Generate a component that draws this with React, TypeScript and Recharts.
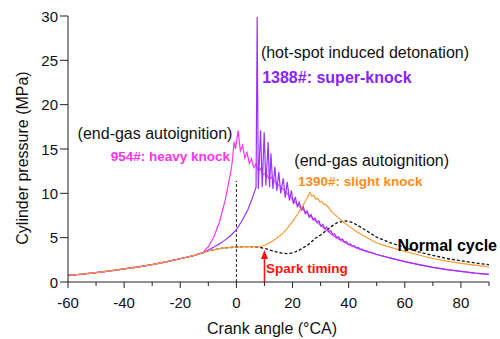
import React from "react";
import {
  LineChart,
  Line,
  XAxis,
  YAxis,
  ReferenceLine,
  ReferenceDot,
  Label,
} from "recharts";

// shared compression stroke (all cycles identical before ignition)
const compressionAngles = [-60, -55, -50, -45, -40, -35, -30, -25, -20, -15];
const compressionP = [0.73, 0.88, 1.05, 1.25, 1.47, 1.7, 1.95, 2.27, 2.62, 3.0];

// normal cycle (black dashed)
const normalAngles = [-10, -5, 0, 4, 8, 10, 12, 14, 16, 18, 20, 22, 24, 26, 28, 30, 32, 34, 36, 38.5, 41, 44, 47, 50, 55, 60, 65, 70, 75, 80, 85, 90];
const normalP = [3.5, 3.82, 3.95, 4.0, 3.92, 3.8, 3.6, 3.42, 3.27, 3.2, 3.28, 3.52, 3.9, 4.3, 4.9, 5.3, 5.8, 6.3, 6.7, 6.9, 6.75, 6.25, 5.65, 5.05, 4.4, 3.9, 3.4, 3.0, 2.65, 2.4, 2.15, 1.95];

// 1390#: slight knock
const slightAngles = [-10, -5, 0, 4, 8, 10, 12, 14, 16, 18, 20, 22, 24, 25.2, 26.2, 26.9, 27.6, 28.3, 29, 29.7, 30.4, 31.1, 31.8, 33, 34, 36, 38, 40, 43, 46, 50, 55, 60, 65, 70, 75, 80, 85, 90];
const slightP = [3.5, 3.82, 3.95, 4.0, 3.95, 4.15, 4.45, 4.85, 5.35, 6.0, 6.8, 7.75, 8.8, 9.45, 10.1, 9.65, 9.8, 9.35, 9.45, 9.05, 9.1, 8.75, 8.75, 8.35, 7.9, 7.35, 6.8, 6.3, 5.65, 5.1, 4.4, 3.9, 3.45, 3.05, 2.65, 2.35, 2.1, 1.9, 1.7];

// 954#: heavy knock
const heavyAngles = [-12, -10, -8, -6, -4, -2, -1.5, -0.8, -0.3, 0.6, 1.4, 2.2, 3.0, 3.8, 4.6, 5.4, 6.2, 7.0, 7.8, 8.6, 9.5, 10.5, 11.5, 12.5, 14, 16, 18, 20, 22.5, 25, 30, 35, 40, 45, 50, 55, 60, 65, 70, 75, 80, 85, 90];
const heavyP = [3.3, 4.0, 5.1, 6.8, 9.2, 12.4, 13.5, 15.8, 15.0, 17.1, 14.8, 15.4, 14.0, 14.6, 13.4, 13.9, 12.9, 13.3, 12.5, 12.8, 12.1, 12.3, 11.7, 11.8, 11.2, 10.7, 10.0, 9.3, 8.5, 7.8, 6.4, 5.1, 4.2, 3.55, 3.1, 2.7, 2.3, 1.95, 1.65, 1.4, 1.2, 1.0, 0.85];

// 1388#: super-knock
const superAngles = [-12, -10, -8, -6, -4, -2, 0, 2, 4, 5.5, 7.0, 7.4, 7.8, 8.6, 9.2, 9.9, 10.5, 11.3, 11.8, 12.3, 13.0, 13.7, 14.4, 15.1, 15.8, 16.7, 17.4, 18.1, 18.9, 19.6, 20.3, 21.0, 21.7, 22.4, 23.1, 23.8, 24.5, 25.2, 25.9, 26.6, 27.3, 28.0, 28.7, 29.4, 30.1, 30.8, 31.5, 32.2, 32.9, 33.6, 34.3, 35.0, 35.7, 36.4, 37.1, 37.8, 38.5, 39.2, 39.9, 40.6, 41.3, 42.0, 42.7, 43.4, 44.1, 44.8, 45.5, 46.2, 47, 48, 50, 55, 60, 65, 70, 75, 80, 85, 90];
const superP = [3.28, 3.6, 3.95, 4.3, 4.75, 5.25, 5.9, 6.9, 8.1, 9.3, 10.7, 29.9, 10.5, 17.1, 10.7, 16.9, 10.9, 15.8, 10.7, 14.5, 10.5, 13.0, 10.3, 12.4, 10.0, 11.7, 9.5, 11.3, 9.2, 10.3, 8.8, 9.6, 8.5, 9.0, 8.1, 8.5, 7.7, 8.0, 7.3, 7.6, 7.0, 7.2, 6.7, 6.9, 6.3, 6.5, 6.0, 6.2, 5.7, 5.8, 5.35, 5.45, 5.0, 5.1, 4.75, 4.85, 4.5, 4.55, 4.25, 4.3, 4.05, 4.1, 3.85, 3.9, 3.7, 3.72, 3.55, 3.55, 3.4, 3.35, 3.1, 2.7, 2.3, 1.95, 1.65, 1.4, 1.2, 1.0, 0.85];

const xTicks = [-60, -50, -40, -30, -20, -10, 0, 10, 20, 30, 40, 50, 60, 70, 80, 90];
const yTicks = [0, 2.5, 5, 7.5, 10, 12.5, 15, 17.5, 20, 22.5, 25, 27.5, 30];

const FONT = "'Liberation Sans', Arial, sans-serif";

const toPoints = (xs: number[], ys: number[]) => xs.map((x, i) => ({ x, y: ys[i] }));

const withCompression = (xs: number[], ys: number[]) =>
  toPoints([...compressionAngles, ...xs], [...compressionP, ...ys]);

const normalData = withCompression(normalAngles, normalP);
const slightData = withCompression(slightAngles, slightP);
const heavyData = withCompression(heavyAngles, heavyP);
const superData = withCompression(superAngles, superP);

const XTick = (props: any) => {
  const { x, y, payload } = props;
  const major = payload.value % 20 === 0;
  return (
    <g>
      <line x1={x} y1={y} x2={x} y2={y + (major ? 6 : 4)} stroke="#222" />
      {major && (
        <text x={x} y={y + 26} textAnchor="middle" fontSize={15} fontFamily={FONT} fill="#111">
          {payload.value}
        </text>
      )}
    </g>
  );
};

const YTick = (props: any) => {
  const { x, y, payload } = props;
  const major = payload.value % 5 === 0;
  return (
    <g>
      <line x1={x} y1={y} x2={x - (major ? 8 : 5)} y2={y} stroke="#222" />
      {major && (
        <text x={x - 10} y={y + 5.5} textAnchor="end" fontSize={15} fontFamily={FONT} fill="#111">
          {payload.value}
        </text>
      )}
    </g>
  );
};

const note = (text: string, color: string, size: number, bold: boolean) => (p: any) => (
  <text
    x={p.cx}
    y={p.cy}
    textAnchor="middle"
    dominantBaseline="central"
    fontSize={size}
    fontWeight={bold ? "bold" : "normal"}
    fontFamily={FONT}
    fill={color}
  >
    {text}
  </text>
);

const arrowHead = (p: any) => (
  <path d={`M${p.cx},${p.cy} L${p.cx - 3.5},${p.cy + 9} L${p.cx + 3.5},${p.cy + 9} Z`} fill="#ff1010" />
);

export default function App() {
  return (
    <div style={{ position: "absolute", left: 0, top: 0, background: "#fff" }}>
      <LineChart width={500} height={339} margin={{ top: 16, right: 11, left: 0, bottom: 0 }}>
        <XAxis
          type="number"
          dataKey="x"
          domain={[-60, 90]}
          ticks={xTicks}
          allowDataOverflow
          height={57}
          tickSize={0}
          tickMargin={0}
          tickLine={false}
          tick={<XTick />}
          axisLine={{ stroke: "#222" }}
        >
          <Label
            content={(p: any) => (
              <text x={272} y={p.viewBox.y + 52} textAnchor="middle" fontSize={16} fontFamily={FONT} fill="#111">
                Crank angle (°CA)
              </text>
            )}
          />
        </XAxis>
        <YAxis
          type="number"
          dataKey="y"
          domain={[0, 30]}
          ticks={yTicks}
          allowDataOverflow
          width={68}
          tickSize={0}
          tickMargin={0}
          tickLine={false}
          tick={<YTick />}
          axisLine={{ stroke: "#222" }}
        >
          <Label
            content={() => (
              <text
                x={22}
                y={158}
                transform="rotate(-90 22 158)"
                textAnchor="middle"
                dominantBaseline="central"
                fontSize={16}
                fontFamily={FONT}
                fill="#111"
              >
                Cylinder pressure (MPa)
              </text>
            )}
          />
        </YAxis>

        <ReferenceLine
          segment={[{ x: 0, y: 0 }, { x: 0, y: 11.4 }]}
          stroke="#222"
          strokeDasharray="3 2"
          strokeWidth={1}
        />

        <Line data={normalData} dataKey="y" type="linear" stroke="#111" strokeWidth={1.3} strokeDasharray="3 2" dot={false} isAnimationActive={false} />
        <Line data={heavyData} dataKey="y" type="linear" stroke="#ff33ff" strokeWidth={1.2} dot={false} isAnimationActive={false} />
        <Line data={superData} dataKey="y" type="linear" stroke="#9933ff" strokeWidth={1.2} dot={false} isAnimationActive={false} />
        <Line data={slightData} dataKey="y" type="linear" stroke="#ff9933" strokeWidth={1.2} dot={false} isAnimationActive={false} />

        <ReferenceLine segment={[{ x: 10, y: 0 }, { x: 10, y: 3 }]} stroke="#ff1010" strokeWidth={1.5} />
        <ReferenceDot x={10} y={3.6} r={1} ifOverflow="visible" shape={arrowHead} />

        <ReferenceDot x={45.8} y={25.9} r={1} ifOverflow="visible" shape={note("(hot-spot induced detonation)", "#111", 16, false)} />
        <ReferenceDot x={35.8} y={23.1} r={1} ifOverflow="visible" shape={note("1388#: super-knock", "#8a1fff", 16, true)} />
        <ReferenceDot x={-29} y={16.8} r={1} ifOverflow="visible" shape={note("(end-gas autoignition)", "#111", 16, false)} />
        <ReferenceDot x={-23.5} y={14.2} r={1} ifOverflow="visible" shape={note("954#: heavy knock", "#ff33ee", 13.5, true)} />
        <ReferenceDot x={48.2} y={13.65} r={1} ifOverflow="visible" shape={note("(end-gas autoignition)", "#111", 16, false)} />
        <ReferenceDot x={44.1} y={11.3} r={1} ifOverflow="visible" shape={note("1390#: slight knock", "#ff8c1a", 13.5, true)} />
        <ReferenceDot x={75.1} y={4.12} r={1} ifOverflow="visible" shape={note("Normal cycle", "#000", 16, true)} />
        <ReferenceDot x={25.1} y={1.56} r={1} ifOverflow="visible" shape={note("Spark timing", "#ff1010", 13.5, true)} />
      </LineChart>
    </div>
  );
}
